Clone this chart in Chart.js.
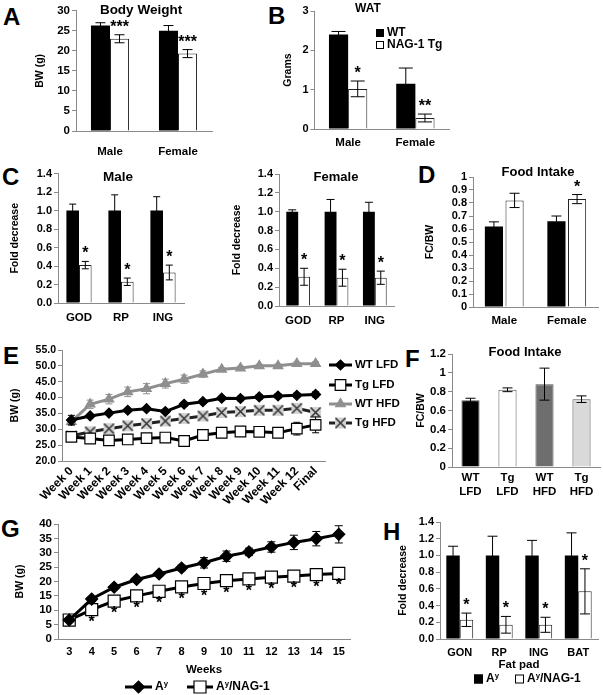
<!DOCTYPE html>
<html>
<head>
<meta charset="utf-8">
<script src="https://cdn.jsdelivr.net/npm/chart.js@4.4.1/dist/chart.umd.min.js"></script>
<style>
body { margin: 0; background: #fff; }
#fig { position: relative; width: 603px; height: 695px; overflow: hidden; font-family: "Liberation Sans", Arial, sans-serif; }
.tag { position: absolute; font-weight: bold; font-size: 24px; line-height: 1; }
</style>
</head>
<body>
<div id="fig">
    <div class="tag" style="left:3px;top:5px">A</div>
    <div class="tag" style="left:268px;top:4px">B</div>
    <div class="tag" style="left:2px;top:165px">C</div>
    <div class="tag" style="left:418px;top:163px">D</div>
    <div class="tag" style="left:3px;top:344px">E</div>
    <div class="tag" style="left:405px;top:347px">F</div>
    <div class="tag" style="left:1px;top:517px">G</div>
    <div class="tag" style="left:383px;top:520px">H</div>
</div>
<script>
// A - body weight
const sexes = ["Male", "Female"];
const bwWT = [26.3, 25.0];
const bwWTErr = [0.7, 1.3];
const bwTg = [23.0, 19.3];
const bwTgErr = [1.0, 1.0];
const bwStars = ["***", "***"];

// B - WAT
const watWT = [2.4, 1.15];
const watWTErr = [0.08, 0.4];
const watTg = [1.02, 0.28];
const watTgErr = [0.2, 0.1];
const watStars = ["*", "**"];

// C - fat pads
const fatPads = ["GOD", "RP", "ING"];
const maleWT = [1.0, 1.0, 1.0];
const maleWTErr = [0.07, 0.17, 0.15];
const maleTg = [0.41, 0.23, 0.33];
const maleTgErr = [0.04, 0.04, 0.08];
const femaleWT = [1.0, 1.0, 1.0];
const femaleWTErr = [0.02, 0.13, 0.1];
const femaleTg = [0.31, 0.30, 0.30];
const femaleTgErr = [0.09, 0.09, 0.07];
const fatStars = ["*", "*", "*"];

// D - food intake by sex
const fiWT = [0.62, 0.66];
const fiWTErr = [0.035, 0.04];
const fiTg = [0.82, 0.83];
const fiTgErr = [0.055, 0.035];
const fiStars = ["", "*"];

// E - body weight on diets
const weekLabels = ["Week 0", "Week 1", "Week 2", "Week 3", "Week 4", "Week 5", "Week 6",
    "Week 7", "Week 8", "Week 9", "Week 10", "Week 11", "Week 12", "Final"];
const wtLfd = [32.9, 34.2, 35.1, 36.0, 36.5, 35.6, 37.9, 38.7, 39.8, 39.7, 40.2, 40.5, 40.7, 41.0];
const wtLfdErr = [1.5, 0.5, 0.5, 0.5, 0.6, 0.6, 0.6, 0.6, 0.6, 0.7, 0.7, 0.7, 0.7, 0.8];
const tgLfd = [27.6, 27.1, 26.5, 26.8, 27.2, 27.4, 26.3, 28.2, 28.9, 29.3, 29.2, 28.9, 30.2, 31.4];
const tgLfdErr = [0.8, 0.8, 0.6, 0.6, 0.6, 0.7, 0.6, 0.7, 0.8, 1.0, 0.9, 1.0, 2.0, 2.5];
const wtHfd = [32.4, 37.9, 39.5, 41.8, 42.8, 44.4, 45.8, 47.4, 48.9, 49.3, 50.0, 50.0, 50.7, 50.7];
const wtHfdErr = [1.2, 1.3, 1.5, 1.5, 1.6, 1.4, 1.3, 1.0, 0.6, 0.6, 0.5, 0.6, 0.5, 0.6];
const tgHfd = [27.9, 29.2, 30.2, 31.1, 31.8, 32.6, 33.4, 34.2, 35.3, 35.6, 36.0, 36.0, 36.6, 35.3];
const tgHfdErr = [0.8, 0.6, 0.6, 0.6, 0.6, 0.7, 0.6, 0.7, 0.8, 0.8, 0.8, 0.8, 0.8, 0.9];

// F - food intake by diet
const dietGroups = [["WT", "LFD"], ["Tg", "LFD"], ["WT", "HFD"], ["Tg", "HFD"]];
const dietIntake = [0.71, 0.82, 0.88, 0.72];
const dietIntakeErr = [0.02, 0.02, 0.17, 0.035];

// G - Ay mice growth
const ayWeeks = ["3", "4", "5", "6", "7", "8", "9", "10", "11", "12", "13", "14", "15"];
const ay = [6.6, 13.9, 18.0, 20.7, 22.6, 24.7, 26.5, 28.8, 30.3, 32.0, 33.6, 34.9, 36.4];
const ayErr = [0.5, 0.8, 0.6, 0.7, 0.8, 1.0, 1.8, 1.8, 1.3, 1.8, 2.5, 2.5, 3.0];
const ayNag = [6.6, 10.2, 13.2, 15.0, 16.6, 18.1, 19.3, 20.3, 20.9, 21.5, 21.9, 22.4, 22.8];
const ayNagErr = [0.5, 1.5, 0.8, 0.8, 0.8, 0.7, 0.7, 0.7, 0.7, 0.7, 0.6, 0.6, 0.6];
const ayStars = ["", "*", "*", "*", "*", "*", "*", "*", "*", "*", "*", "*", "*"];

// H - Ay fat pads
const ayPads = ["GON", "RP", "ING", "BAT"];
const ayPadWT = [1.0, 1.0, 1.0, 1.0];
const ayPadWTErr = [0.11, 0.23, 0.18, 0.27];
const ayPadNag = [0.23, 0.17, 0.17, 0.57];
const ayPadNagErr = [0.08, 0.1, 0.09, 0.27];
const ayPadStars = ["*", "*", "*", "*"];


const FONT = '"Liberation Sans", Arial, sans-serif';
const AXIS = "#8a8a8a";
const GREY = "#8f8f8f";

Chart.defaults.font.family = FONT;
Chart.defaults.font.weight = "bold";
Chart.defaults.font.size = 11;
Chart.defaults.color = "#000";
Chart.defaults.animation = false;
Chart.defaults.plugins.legend.display = false;
Chart.defaults.plugins.tooltip.enabled = false;


function drawErrors(chart, i) {
    const ds = chart.data.datasets[i];
    if (!ds.errors) return;
    const meta = chart.getDatasetMeta(i);
    const y = chart.scales.y;
    const ctx = chart.ctx;
    const cap = ds.cap || 4;
    ctx.save();
    ctx.strokeStyle = ds.errorColor || "#000";
    ctx.lineWidth = 1;
    meta.data.forEach((el, k) => {
        const v = ds.data[k], e = ds.errors[k];
        const top = y.getPixelForValue(v + e), bot = y.getPixelForValue(v - e);
        ctx.beginPath();
        ctx.moveTo(el.x, top); ctx.lineTo(el.x, bot);
        ctx.moveTo(el.x - cap, top); ctx.lineTo(el.x + cap, top);
        ctx.moveTo(el.x - cap, bot); ctx.lineTo(el.x + cap, bot);
        ctx.stroke();
    });
    ctx.restore();
}

function drawStars(chart, i) {
    const ds = chart.data.datasets[i];
    if (!ds.stars) return;
    const meta = chart.getDatasetMeta(i);
    const y = chart.scales.y;
    const ctx = chart.ctx;
    ctx.save();
    ctx.font = "bold 16px " + FONT;
    ctx.fillStyle = "#000";
    ctx.textAlign = "center";
    ctx.textBaseline = "alphabetic";
    meta.data.forEach((el, k) => {
        const s = ds.stars[k];
        if (!s) return;
        const yy = ds.starsBelow
            ? y.getPixelForValue(ds.data[k]) + 17
            : y.getPixelForValue(ds.data[k] + (ds.errors ? ds.errors[k] : 0)) - 3;
        ctx.fillText(s, el.x, yy);
    });
    ctx.restore();
}

function drawRich(ctx, text, x, y, size) {
    ctx.textAlign = "left";
    ctx.textBaseline = "middle";
    ctx.fillStyle = "#000";
    text.split("^").forEach((part, k) => {
        const sup = k % 2 === 1;
        ctx.font = "bold " + (sup ? size * 0.65 : size) + "px " + FONT;
        ctx.fillText(part, x, sup ? y - size * 0.3 : y);
        x += ctx.measureText(part).width;
    });
}

function drawMarker(ctx, it, x, y) {
    if (typeof it.style !== "string") {
        ctx.drawImage(it.style, x - it.style.width / 2, y - it.style.height / 2);
        return;
    }
    ctx.fillStyle = it.fill;
    ctx.strokeStyle = it.color;
    ctx.lineWidth = 1.2;
    Chart.helpers.drawPoint(ctx, { pointStyle: it.style, radius: it.r, borderWidth: 1.2, rotation: 0 }, x, y);
}

const extras = {
    id: "extras",
    beforeDatasetDraw(chart, args) {
        if (chart.config.type === "line") drawErrors(chart, args.index);
    },
    afterDatasetDraw(chart, args) {
        if (chart.config.type !== "line") drawErrors(chart, args.index);
        drawStars(chart, args.index);
    },
    afterDraw(chart, args, opts) {
        if (!opts.origin) return;
        const ctx = chart.ctx;
        ctx.save();
        ctx.translate(-opts.origin[0], -opts.origin[1]);
        (opts.titles || []).forEach(t => {
            ctx.font = "bold " + t.size + "px " + FONT;
            ctx.fillStyle = "#000";
            ctx.textAlign = "center";
            ctx.textBaseline = "middle";
            ctx.fillText(t.text, t.x, t.y);
        });
        (opts.legend || []).forEach(it => {
            let tx;
            if (it.line) {
                ctx.strokeStyle = it.color;
                ctx.lineWidth = 3;
                ctx.beginPath();
                ctx.moveTo(it.x, it.y);
                ctx.lineTo(it.x + it.line, it.y);
                ctx.stroke();
                drawMarker(ctx, it, it.x + it.line / 2, it.y);
                tx = it.x + it.line + 3;
            } else {
                ctx.fillStyle = it.fill;
                ctx.fillRect(it.x, it.y - it.box / 2, it.box, it.box);
                ctx.strokeStyle = "#000";
                ctx.lineWidth = 1;
                ctx.strokeRect(it.x + 0.5, it.y - it.box / 2 + 0.5, it.box - 1, it.box - 1);
                tx = it.x + it.box + 3;
            }
            drawRich(ctx, it.text, tx, it.y, it.size);
        });
        ctx.restore();
    },
};
Chart.register(extras);


function xBoxMarker() {
    const c = document.createElement("canvas");
    c.width = 13; c.height = 13;
    const g = c.getContext("2d");
    g.fillStyle = "#d2d2d2";
    g.fillRect(1, 1, 11, 11);
    g.strokeStyle = "#333";
    g.lineWidth = 1.5;
    g.beginPath();
    g.moveTo(1.5, 1.5); g.lineTo(11.5, 11.5);
    g.moveTo(11.5, 1.5); g.lineTo(1.5, 11.5);
    g.stroke();
    return c;
}
const xBox = xBoxMarker();

function yScale(min, max, step, title, opts = {}) {
    const ticks = { stepSize: step, padding: 2, autoSkip: false, font: { size: opts.size || 11 } };
    if (opts.fmt) ticks.callback = opts.fmt;
    return {
        min, max, ticks,
        grid: { drawOnChartArea: false, tickLength: 4, color: AXIS },
        border: { color: AXIS },
        title: { display: true, text: title, font: { size: 10.5 } },
    };
}

function xScale(pad, opts = {}) {
    return {
        offset: true,
        ticks: { padding: pad, font: { size: opts.size || 11.5 }, autoSkip: false,
            minRotation: opts.rot || 0, maxRotation: opts.rot || 0 },
        grid: { display: false, drawTicks: false },
        border: { color: AXIS },
        title: opts.title || { display: false },
    };
}

function pairBars(wt, wtErr, tg, tgErr, stars, cat, cap, bar) {
    return [
        { data: wt, errors: wtErr, cap, backgroundColor: "#000", borderWidth: 0,
          categoryPercentage: cat, barPercentage: bar || 1 },
        { data: tg, errors: tgErr, cap, stars, backgroundColor: "#fff", borderColor: "#222", borderWidth: 1,
          categoryPercentage: cat, barPercentage: bar || 1 },
    ];
}

function mount(box, area, config) {
    const [bx, by, bw, bh] = box;
    const [L, T, R, B] = area;
    const canvas = document.createElement("canvas");
    canvas.width = bw;
    canvas.height = bh;
    canvas.style.cssText = `position:absolute;left:${bx}px;top:${by}px;width:${bw}px;height:${bh}px`;
    document.getElementById("fig").appendChild(canvas);
    const opt = config.options;
    opt.responsive = false;
    opt.layout = { autoPadding: false, padding: { left: 0, top: T - by, right: bx + bw - R, bottom: 0 } };
    opt.scales.x.afterFit = s => { s.height = by + bh - B; };
    opt.scales.y.afterFit = s => { s.width = L - bx; };
    const ex = opt.plugins.extras;
    ex.origin = [bx, by];
    const yt = opt.scales.y.title;
    yt.padding = { top: ex.yTitleX - bx - yt.font.size * 0.6, bottom: 0 };
    return new Chart(canvas, config);
}

const oneDec = v => v.toFixed(1);
const plain = v => String(+v.toFixed(2));


function initCharts() {
    // A
    mount([25, 0, 240, 165], [76, 10.7, 212, 131], {
        type: "bar",
        data: { labels: sexes, datasets: pairBars(bwWT, bwWTErr, bwTg, bwTgErr, bwStars, 0.56, 5) },
        options: {
            scales: { x: xScale(14), y: yScale(0, 30, 5, "BW (g)", { size: 11.5 }) },
            plugins: { extras: { yTitleX: 40, titles: [{ text: "Body Weight", x: 141, y: 10, size: 13.5 }] } },
        },
    });

    // B
    mount([270, 0, 200, 160], [314.5, 11, 449, 129], {
        type: "bar",
        data: { labels: sexes, datasets: pairBars(watWT, watWTErr, watTg, watTgErr, watStars, 0.57, 7) },
        options: {
            scales: { x: xScale(7), y: yScale(0, 3, 1, "Grams") },
            plugins: { extras: {
                yTitleX: 288,
                titles: [{ text: "WAT", x: 368, y: 9, size: 12 }],
                legend: [
                    { text: "WT", x: 376, y: 33, box: 8, fill: "#000", size: 12 },
                    { text: "NAG-1 Tg", x: 376, y: 45, box: 8, fill: "#fff", size: 12 },
                ],
            } },
        },
    });

    // C male
    mount([0, 165, 200, 170], [58, 173, 184, 303], {
        type: "bar",
        data: { labels: fatPads, datasets: pairBars(maleWT, maleWTErr, maleTg, maleTgErr, fatStars, 0.6, 3.5) },
        options: {
            scales: { x: xScale(7.5), y: yScale(0, 1.4, 0.2, "Fold decrease", { fmt: oneDec }) },
            plugins: { extras: { yTitleX: 15, titles: [{ text: "Male", x: 118, y: 177, size: 13.5 }] } },
        },
    });

    // C female
    mount([200, 165, 205, 170], [279, 174, 394, 306], {
        type: "bar",
        data: { labels: fatPads, datasets: pairBars(femaleWT, femaleWTErr, femaleTg, femaleTgErr, fatStars, 0.62, 4) },
        options: {
            scales: { x: xScale(7.5), y: yScale(0, 1.4, 0.2, "Fold decrease", { fmt: oneDec }) },
            plugins: { extras: { yTitleX: 237, titles: [{ text: "Female", x: 336, y: 177, size: 13 }] } },
        },
    });

    // D
    mount([405, 165, 198, 170], [473, 177, 598, 307], {
        type: "bar",
        data: { labels: sexes, datasets: pairBars(fiWT, fiWTErr, fiTg, fiTgErr, fiStars, 0.66, 5, 0.88) },
        options: {
            scales: { x: xScale(7), y: yScale(0, 1, 0.1, "FC/BW", { fmt: plain }) },
            plugins: { extras: { yTitleX: 430, titles: [{ text: "Food Intake", x: 538, y: 172, size: 13 }] } },
        },
    });

    // E
    const lineBase = { borderWidth: 3, pointBorderWidth: 1.2, cap: 3.5 };
    mount([0, 338, 410, 180], [62, 350, 325, 461], {
        type: "line",
        data: {
            labels: weekLabels,
            datasets: [
                Object.assign({ data: wtLfd, errors: wtLfdErr, borderColor: "#000", pointBackgroundColor: "#000",
                    pointBorderColor: "#000", pointStyle: "rectRot", pointRadius: 5 }, lineBase),
                Object.assign({ data: tgLfd, errors: tgLfdErr, borderColor: "#000", pointBackgroundColor: "#fff",
                    pointBorderColor: "#000", pointStyle: "rect", pointRadius: 7.5 }, lineBase),
                Object.assign({ data: wtHfd, errors: wtHfdErr, errorColor: GREY, borderColor: GREY,
                    pointBackgroundColor: GREY, pointBorderColor: GREY, pointStyle: "triangle", pointRadius: 5.5 }, lineBase),
                Object.assign({ data: tgHfd, errors: tgHfdErr, borderColor: "#222", pointStyle: xBox }, lineBase),
            ],
        },
        options: {
            scales: {
                x: xScale(3, { rot: 45, size: 12 }),
                y: yScale(20, 55, 5, "BW (g)", { fmt: oneDec, size: 10.5 }),
            },
            plugins: { extras: {
                yTitleX: 15,
                legend: [
                    { text: "WT LFD", x: 329, y: 365, line: 23, color: "#000", fill: "#000", style: "rectRot", r: 5, size: 11.5 },
                    { text: "Tg LFD", x: 329, y: 385, line: 23, color: "#000", fill: "#fff", style: "rect", r: 7.5, size: 11.5 },
                    { text: "WT HFD", x: 329, y: 404, line: 23, color: GREY, fill: GREY, style: "triangle", r: 5.5, size: 11.5 },
                    { text: "Tg HFD", x: 329, y: 423, line: 23, color: "#222", style: xBox, size: 11.5 },
                ],
            } },
        },
    });

    // F
    mount([400, 340, 203, 165], [452, 354, 600, 467], {
        type: "bar",
        data: {
            labels: dietGroups,
            datasets: [{
                data: dietIntake, errors: dietIntakeErr, cap: 5,
                backgroundColor: ["#000", "#fff", "#6e6e6e", "#d9d9d9"],
                borderColor: "#555", borderWidth: 1, barPercentage: 0.5, categoryPercentage: 0.98,
            }],
        },
        options: {
            scales: { x: xScale(4), y: yScale(0, 1.2, 0.2, "FC/BW", { size: 11.5, fmt: plain }) },
            plugins: { extras: { yTitleX: 421, titles: [{ text: "Food Intake", x: 525, y: 352, size: 13 }] } },
        },
    });

    // G
    const gLine = { borderColor: "#000", borderWidth: 3, pointBorderColor: "#000", pointBorderWidth: 1.2, cap: 4 };
    mount([0, 515, 380, 180], [58, 524, 350, 639], {
        type: "line",
        data: {
            labels: ayWeeks,
            datasets: [
                Object.assign({ data: ay, errors: ayErr, pointBackgroundColor: "#000", pointStyle: "rectRot", pointRadius: 6 }, gLine),
                Object.assign({ data: ayNag, errors: ayNagErr, stars: ayStars, starsBelow: true,
                    pointBackgroundColor: "#fff", pointStyle: "rect", pointRadius: 8.5 }, gLine),
            ],
        },
        options: {
            scales: {
                x: xScale(6, { size: 11, title: { display: true, text: "Weeks", font: { size: 11.5 }, padding: { top: 0, bottom: 18 } } }),
                y: yScale(0, 40, 5, "BW (g)", { size: 11.5 }),
            },
            plugins: { extras: {
                yTitleX: 20,
                legend: [
                    { text: "A^y^", x: 125, y: 687, line: 27, color: "#000", fill: "#000", style: "rectRot", r: 6, size: 12 },
                    { text: "A^y^/NAG-1", x: 187, y: 687, line: 26, color: "#000", fill: "#fff", style: "rect", r: 8.5, size: 12 },
                ],
            } },
        },
    });

    // H
    mount([380, 510, 223, 185], [440, 522, 598, 639], {
        type: "bar",
        data: { labels: ayPads, datasets: pairBars(ayPadWT, ayPadWTErr, ayPadNag, ayPadNagErr, ayPadStars, 0.68, 5) },
        options: {
            scales: {
                x: xScale(7, { size: 11, title: { display: true, text: "Fat pad", font: { size: 11.5 }, padding: { top: 0, bottom: 23 } } }),
                y: yScale(0, 1.4, 0.2, "Fold decrease", { fmt: oneDec }),
            },
            plugins: { extras: {
                yTitleX: 403,
                legend: [
                    { text: "A^y^", x: 474, y: 679, box: 9, fill: "#000", size: 12 },
                    { text: "A^y^/NAG-1", x: 515, y: 679, box: 9, fill: "#fff", size: 12 },
                ],
            } },
        },
    });
}


document.addEventListener("DOMContentLoaded", () => {
    initCharts();
});
</script>
</body>
</html>
